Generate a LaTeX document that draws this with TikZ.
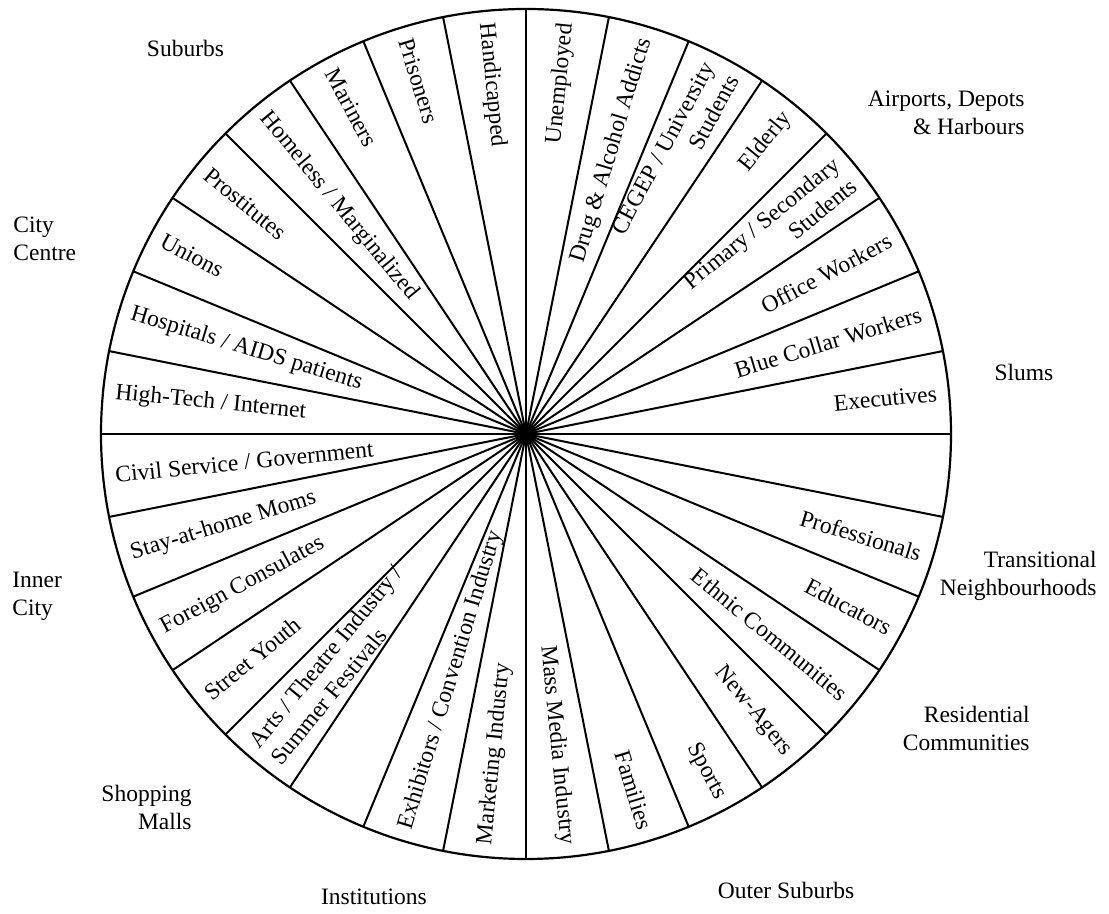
\documentclass[tikz,border=0pt]{standalone}
\usepackage{fontspec}
\setmainfont{Liberation Serif}
\begin{document}
\begin{tikzpicture}[x=0.5pt,y=0.5pt,
	spoke/.style={line width=1pt},
	inlabel/.style={inner sep=0pt,font=\fontsize{11.75}{14}\selectfont},
	outlabel/.style={inner sep=0pt,font=\fontsize{11.75}{14}\selectfont}]
	
	\useasboundingbox (-526,-480) rectangle (583,434);
	\coordinate (hub) at (0,0);
	\draw[line width=1.1pt] (hub) circle (425);
	\foreach \a in {0,11.25,...,349}
	\draw[spoke] (hub) -- (\a:425);
	\fill (hub) circle (10);
	
	\foreach \a/\txt [count=\i] in {5.625/Executives, 16.875/Blue Collar Workers, 28.125/Office Workers,
		39.375/{Primary / Secondary\\Students}, 50.625/Elderly, 61.875/{CEGEP / University\\Students},
		73.125/Drug \& Alcohol Addicts, 84.375/Unemployed, -16.875/Professionals, -28.125/Educators,
		-39.375/Ethnic Communities, -50.625/New-Agers, -61.875/Sports, -73.125/Families,
		-84.375/Mass Media Industry}
	\node[inlabel,anchor=east,align=right,rotate=\a] (r\i) at (\a:413) {\txt};
	
	\foreach \a/\txt [count=\i] in {95.625/Handicapped, 106.875/Prisoners, 118.125/Mariners,
		129.375/{Homeless / Marginalized}, 140.625/Prostitutes, 151.875/Unions,
		163.125/{Hospitals / AIDS patients}, 174.375/{High-Tech / Internet},
		185.625/{Civil Service / Government}, 196.875/Stay-at-home Moms, 208.125/Foreign Consulates,
		219.375/Street Youth, 230.625/{Arts / Theatre Industry /\\Summer Festivals},
		253.125/{Exhibitors / Convention Industry}, 264.375/Marketing Industry}
	\node[inlabel,anchor=west,align=left,rotate=\a-180] (l\i) at (\a:413) {\txt};
	
	\node[outlabel] (suburbs) at (-340.5,386) {Suburbs};
	\node[outlabel,anchor=east,align=right] (airports) at (499,321.5) {Airports, Depots\\\& Harbours};
	\node[outlabel,anchor=west,align=left] (citycentre) at (-513,195) {City\\Centre};
	\node[outlabel] (slums) at (498,62) {Slums};
	\node[outlabel,anchor=east,align=right] (transitional) at (571,-142) {Transitional\\Neighbourhoods};
	\node[outlabel,anchor=west,align=left] (innercity) at (-514,-162) {Inner\\City};
	\node[outlabel,anchor=east,align=right] (residential) at (504,-294.5) {Residential\\Communities};
	\node[outlabel,anchor=east,align=right] (shopping) at (-334,-373.5) {Shopping\\Malls};
	\node[outlabel] (institutions) at (-152,-463) {Institutions};
	\node[outlabel] (outersuburbs) at (260,-456) {Outer Suburbs};
\end{tikzpicture}
\end{document}
